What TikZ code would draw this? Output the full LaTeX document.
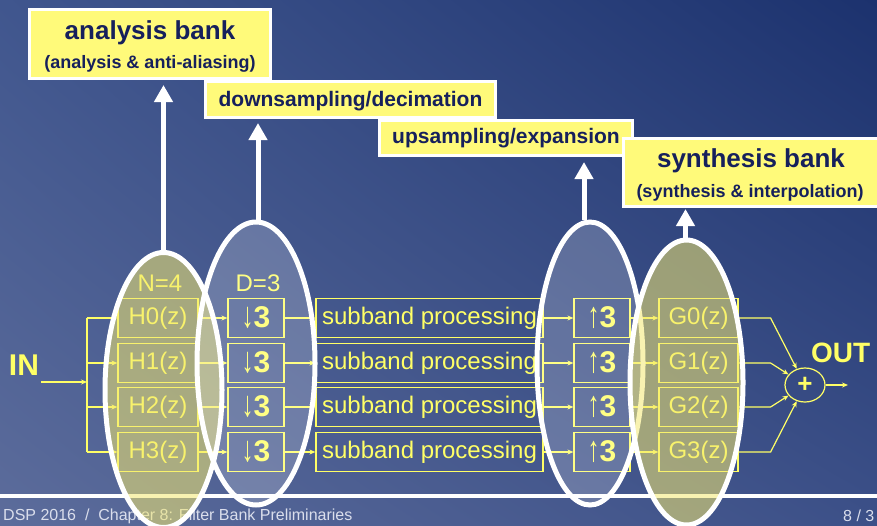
\documentclass[tikz,border=0pt]{standalone}
\usepackage{fontspec}
\setmainfont{Liberation Sans}
\usetikzlibrary{shapes.geometric, arrows.meta, positioning, calc, shadings}

\definecolor{sigyellow}{RGB}{255,255,102}
\definecolor{lblyellow}{RGB}{255,250,122}
\definecolor{navytext}{RGB}{22,32,92}
\definecolor{bgUL}{RGB}{64,86,142}
\definecolor{bgUR}{RGB}{28,50,110}
\definecolor{bgLL}{RGB}{92,108,155}
\definecolor{bgLR}{RGB}{60,80,136}
\definecolor{bandolive}{RGB}{243,232,113}
\definecolor{footgray}{RGB}{218,222,236}

\newcommand{\fsz}[1]{\fontsize{#1}{#1}\selectfont}
\newcommand{\dnthree}{{\fsz{24}\scalebox{1}[1.5]{↓}}{\fsz{30}\bfseries 3}}
\newcommand{\upthree}{{\fsz{24}\scalebox{1}[1.5]{↑}}{\fsz{30}\bfseries 3}}

\begin{document}
\begin{tikzpicture}[x=1pt, y=-1pt,
  blk/.style={rectangle, draw=sigyellow, line width=1.2pt, text=sigyellow, font=\fsz{24}, minimum height=39pt, inner sep=0pt},
  lbl/.style={rectangle, draw=white, line width=3pt, fill=lblyellow, inner sep=0pt},
  lbltext/.style={text=navytext, inner sep=0pt},
  sig/.style={draw=sigyellow, line width=1.2pt, -{Stealth[length=6pt, width=5pt]}},
  callout/.style={draw=white, line width=5pt, -{Triangle[length=17pt, width=18pt]}},
  band/.style={ellipse, draw=white, line width=5pt, inner sep=0pt}]
  \useasboundingbox (0,0) rectangle (877,525);
  \shade[upper left=bgUL, upper right=bgUR, lower left=bgLL, lower right=bgLR] (0,0) rectangle (877,525);

  % footer
  \draw[white, line width=4pt] (0,496) -- (877,496);
  \node[anchor=west, text=footgray, font=\fsz{16}, inner sep=0pt] (foot) at (3,516) {DSP 2016~ /~ Chapter 8: Filter Bank Preliminaries};
  \node[anchor=west, text=footgray, font=\fsz{16}, inner sep=0pt] (page) at (843,516) {8 / 3};

  % filter bank
  \node[text=sigyellow, font=\bfseries\fsz{30}] (inLbl) at (24,365) {IN};
  \node[anchor=west, text=sigyellow, font=\bfseries\fsz{28}, inner sep=0pt] (outLbl) at (811,353) {OUT};
  \node[text=sigyellow, font=\fsz{24}] (nLbl) at (160,283) {N=4};
  \node[text=sigyellow, font=\fsz{24}] (dLbl) at (258,283) {D=3};
  \node[ellipse, draw=sigyellow, line width=1.2pt, text=sigyellow, font=\bfseries\fsz{26}, minimum width=40pt, minimum height=34pt, inner sep=0pt] (sum) at (805,385) {+};
  \coordinate (inS) at (41,382);
  \coordinate (inE) at (87,382);
  \draw[sig] (inS) -- (inE);
  \foreach \i/\y in {0/318, 1/363, 2/407, 3/452} {
    \coordinate (bus\i) at (87,\y);
    \node[blk, minimum width=80pt] (h\i) at (158,\y) {H\i(z)};
    \node[blk, minimum width=56pt] (d\i) at (256,\y) {\dnthree};
    \node[blk, minimum width=227pt] (s\i) at (429.5,\y) {subband processing};
    \node[blk, minimum width=56pt] (u\i) at (602,\y) {\upthree};
    \node[blk, minimum width=79pt] (g\i) at (698.5,\y) {G\i(z)};
    \draw[sig] (bus\i) -- (h\i);
    \draw[sig] (h\i) -- (d\i);
    \draw[sig] (d\i) -- (s\i);
    \draw[sig] (s\i) -- (u\i);
    \draw[sig] (u\i) -- (g\i);
    \draw[sig] (g\i.east) -- ++(32,0) -- (sum);
  }
  \draw[draw=sigyellow, line width=1.2pt] (bus0) -- (bus3);
  \coordinate (outE) at (848,385);
  \draw[sig] (sum) -- (outE);

  % grouping ellipses
  \node[band, fill=bandolive, fill opacity=0.55, minimum width=117pt, minimum height=275pt] (ana) at (163.5,390) {};
  \node[band, fill=white, fill opacity=0.2, minimum width=118pt, minimum height=283pt] (dec) at (256,363.5) {};
  \node[band, fill=white, fill opacity=0.2, minimum width=106pt, minimum height=283pt] (exp) at (590,363.5) {};
  \node[band, fill=bandolive, fill opacity=0.55, minimum width=113pt, minimum height=285pt] (syn) at (686.5,382.5) {};

  % labels
  \node[lbl, minimum width=241pt, minimum height=69pt] (anaLbl) at (150,44) {};
  \node[lbltext, font=\bfseries\fsz{26}] (anaTitle) at (150,32.5) {analysis bank};
  \node[lbltext, font=\bfseries\fsz{18}] (anaSub) at (150,63.5) {(analysis \& anti-aliasing)};
  \node[lbl, minimum width=290pt, minimum height=36pt] (decLbl) at (350.5,99.5) {};
  \node[lbltext, font=\bfseries\fsz{21}] (decText) at (350.5,101.5) {downsampling/decimation};
  \node[lbl, minimum width=253pt, minimum height=35pt] (expLbl) at (506,138) {};
  \node[lbltext, font=\bfseries\fsz{21}] (expText) at (506,138) {upsampling/expansion};
  \node[lbl, minimum width=257pt, minimum height=68pt] (synLbl) at (752,172.5) {};
  \node[lbltext, font=\bfseries\fsz{26}] (synTitle) at (751,160.5) {synthesis bank};
  \node[lbltext, font=\bfseries\fsz{18}] (synSub) at (750,192.5) {(synthesis \& interpolation)};

  \draw[callout, shorten >=5pt] (ana.north) -- (ana.north |- anaLbl.south);
  \draw[callout, shorten >=4pt] ([xshift=2pt]dec.north) -- ([xshift=2pt]dec.north |- decLbl.south);
  \draw[callout, shorten >=5pt] ([xshift=-6pt]exp.north) -- ([xshift=-6pt]exp.north |- expLbl.south);
  \draw[callout, shorten >=1pt] ([xshift=-1pt]syn.north) -- ([xshift=-1pt]syn.north |- synLbl.south);
\end{tikzpicture}
\end{document}
